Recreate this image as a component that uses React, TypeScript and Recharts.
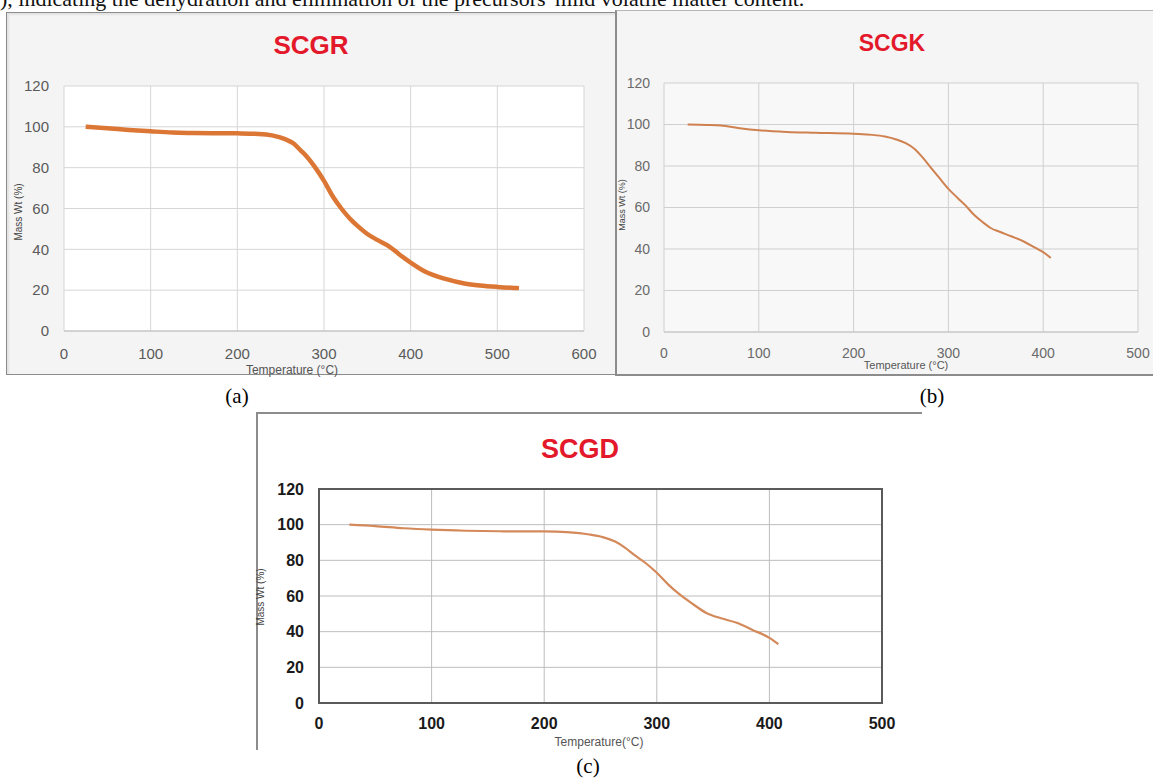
import React from 'react';
import { LineChart, Line, XAxis, YAxis, CartesianGrid, ReferenceArea } from 'recharts';

// SCGR
const tempA = [25, 50, 75, 100, 125, 150, 200, 225, 240, 255, 265, 273, 280, 290, 300, 310, 320, 330, 340, 350, 362, 375, 387, 400, 417, 440, 462, 480, 500, 520, 525];
const massA = [100, 99.3, 98.5, 97.8, 97.2, 97, 96.8, 96.5, 95.8, 94, 91.8, 88.5, 85.5, 80, 73.5, 66, 60, 55, 51, 47.5, 44.5, 41.5, 37.5, 33.5, 29, 25.5, 23.3, 22.3, 21.6, 21.1, 21];

// SCGK
const tempB = [25, 45, 60, 80, 100, 130, 160, 200, 220, 233, 245, 255, 265, 273, 281, 290, 300, 310, 318, 327, 336, 345, 354, 367, 380, 392, 400, 408];
const massB = [100, 99.8, 99.5, 98.2, 97.2, 96.4, 96, 95.5, 95, 94.2, 92.8, 91, 88, 84, 79.5, 74.5, 69, 64.5, 61, 56.5, 53, 50, 48.3, 46, 43.5, 40.5, 38.5, 35.7];

// SCGD
const tempC = [27, 50, 75, 100, 130, 160, 200, 220, 240, 252, 263, 272, 280, 290, 300, 310, 320, 332, 344, 357, 371, 385, 400, 408];
const massC = [100, 99.2, 98, 97.2, 96.6, 96.3, 96.2, 95.8, 94.5, 93, 90.5, 87, 83, 78.5, 73, 66.5, 61, 55.5, 50.5, 47.5, 45, 41, 36.5, 33];

const yTicks = [0, 20, 40, 60, 80, 100, 120];
const xTicksA = [0, 100, 200, 300, 400, 500, 600];
const xTicksBC = [0, 100, 200, 300, 400, 500];

const zip = (t: number[], m: number[]) => t.map((v, i) => ({ t: v, m: m[i] }));

const sans = '"Liberation Sans", Arial, sans-serif';
const serif = '"Liberation Serif", "Times New Roman", serif';

const abs = (left: number, top: number): React.CSSProperties => ({ position: 'absolute', left, top });

const Centered = ({ x, y, children, style }: { x: number; y: number; children: React.ReactNode; style?: React.CSSProperties }) => (
  <div style={{ position: 'absolute', left: x, top: y, transform: 'translate(-50%, -50%)', whiteSpace: 'nowrap', lineHeight: 1, ...style }}>
    {children}
  </div>
);

const VLabel = ({ x, y, children, size }: { x: number; y: number; children: React.ReactNode; size: number }) => (
  <div style={{ position: 'absolute', left: x, top: y, transform: 'translate(-50%, -50%) rotate(-90deg)', whiteSpace: 'nowrap', lineHeight: 1, fontFamily: sans, fontSize: size, color: '#444' }}>
    {children}
  </div>
);

export default function App() {
  const tickA = { fontFamily: sans, fontSize: 15, fill: '#5a5a5a' };
  const tickB = { fontFamily: sans, fontSize: 14, fill: '#6a6a6a' };
  const tickC = { fontFamily: sans, fontSize: 16, fill: '#1a1a1a', fontWeight: 700 };

  return (
    <div style={{ position: 'absolute', left: 0, top: 0, width: 1153, height: 778, overflow: 'hidden', background: '#fff', fontFamily: serif }}>
      {/* caption line from the page above, cut off at the top edge as in the source */}
      <div style={{ ...abs(0, -12), fontSize: 22, lineHeight: '22px', whiteSpace: 'nowrap', color: '#111' }}>
        ), indicating the dehydration and elimination of the precursors' mild volatile matter content.
      </div>

      {/* panel frames */}
      <div style={{ ...abs(6, 12), width: 608, height: 361, background: '#f4f4f4', border: '1.5px solid #8c8c8c', boxShadow: 'inset 2px 2px 2px #e2e2e2' }} />
      <div style={{ ...abs(615, 10), width: 560, height: 363, background: '#f5f5f5', borderLeft: '2px solid #8c8c8c', borderTop: '1px solid #b5b5b5', borderBottom: '2px solid #8c8c8c' }} />
      <div style={{ ...abs(256, 412), width: 664, height: 336, background: '#fff', borderLeft: '2px solid #8c8c8c', borderTop: '2px solid #8c8c8c' }} />

      {/* (a) SCGR */}
      <div style={abs(6, 12)}>
        <LineChart width={610} height={363} data={zip(tempA, massA)} margin={{ top: 74, right: 32, left: 18, bottom: 14 }}>
          <CartesianGrid stroke="#d6d6d6" fill="#ffffff" vertical horizontal />
          <XAxis type="number" dataKey="t" domain={[0, 600]} ticks={xTicksA} height={30} tickLine={false} axisLine={{ stroke: '#bdbdbd' }} tick={tickA} tickMargin={11} />
          <YAxis type="number" domain={[0, 120]} ticks={yTicks} width={40} tickLine={false} axisLine={false} tick={tickA} tickMargin={9} />
          <Line type="monotone" dataKey="m" stroke="#dc7634" strokeWidth={4.5} dot={false} isAnimationActive={false} />
        </LineChart>
      </div>
      <Centered x={311} y={45} style={{ fontFamily: sans, fontWeight: 700, fontSize: 26, color: '#e3192b' }}>SCGR</Centered>
      <VLabel x={19} y={212} size={10}>Mass Wt (%)</VLabel>
      <Centered x={292} y={370} style={{ fontFamily: sans, fontSize: 12, color: '#555' }}>Temperature (°C)</Centered>
      <Centered x={237} y={396} style={{ fontSize: 21 }}>(a)</Centered>

      {/* (b) SCGK */}
      <div style={abs(615, 10)}>
        <LineChart width={538} height={365} data={zip(tempB, massB)} margin={{ top: 73, right: 15, left: 9, bottom: 13 }}>
          <CartesianGrid stroke="#cfcfcf" fill="#f8f8f8" />
          <XAxis type="number" dataKey="t" domain={[0, 500]} ticks={xTicksBC} height={30} tickLine={false} axisLine={{ stroke: '#c4c4c4' }} tick={tickB} tickMargin={10} />
          <YAxis type="number" domain={[0, 120]} ticks={yTicks} width={40} tickLine={false} axisLine={false} tick={tickB} tickMargin={8} />
          <Line type="monotone" dataKey="m" stroke="#cf8150" strokeWidth={2} dot={false} isAnimationActive={false} />
        </LineChart>
      </div>
      <Centered x={892} y={43} style={{ fontFamily: sans, fontWeight: 700, fontSize: 23, color: '#e3192b' }}>SCGK</Centered>
      <VLabel x={622} y={205} size={9}>Mass Wt (%)</VLabel>
      <Centered x={906} y={365} style={{ fontFamily: sans, fontSize: 11, color: '#555' }}>Temperature (°C)</Centered>
      <Centered x={932} y={396} style={{ fontSize: 21 }}>(b)</Centered>

      {/* (c) SCGD */}
      <div style={abs(256, 412)}>
        <LineChart width={664} height={336} data={zip(tempC, massC)} margin={{ top: 77, right: 38, left: 18, bottom: 15 }}>
          <CartesianGrid stroke="#bdbdbd" fill="#ffffff" />
          <XAxis type="number" dataKey="t" domain={[0, 500]} ticks={xTicksBC} height={30} tickLine={false} axisLine={false} tick={tickC} tickMargin={9} />
          <YAxis type="number" domain={[0, 120]} ticks={yTicks} width={45} tickLine={false} axisLine={false} tick={tickC} tickMargin={9} />
          <ReferenceArea x1={0} x2={500} y1={0} y2={120} fill="none" stroke="#5a5a5a" strokeWidth={2} ifOverflow="visible" />
          <Line type="monotone" dataKey="m" stroke="#d4895a" strokeWidth={2.2} dot={false} isAnimationActive={false} />
        </LineChart>
      </div>
      <Centered x={580} y={449} style={{ fontFamily: sans, fontWeight: 700, fontSize: 27, color: '#e3192b' }}>SCGD</Centered>
      <VLabel x={261} y={597} size={10}>Mass Wt (%)</VLabel>
      <Centered x={599} y={742} style={{ fontFamily: sans, fontSize: 12, color: '#555' }}>Temperature(°C)</Centered>
      <Centered x={588} y={766} style={{ fontSize: 21 }}>(c)</Centered>
    </div>
  );
}
